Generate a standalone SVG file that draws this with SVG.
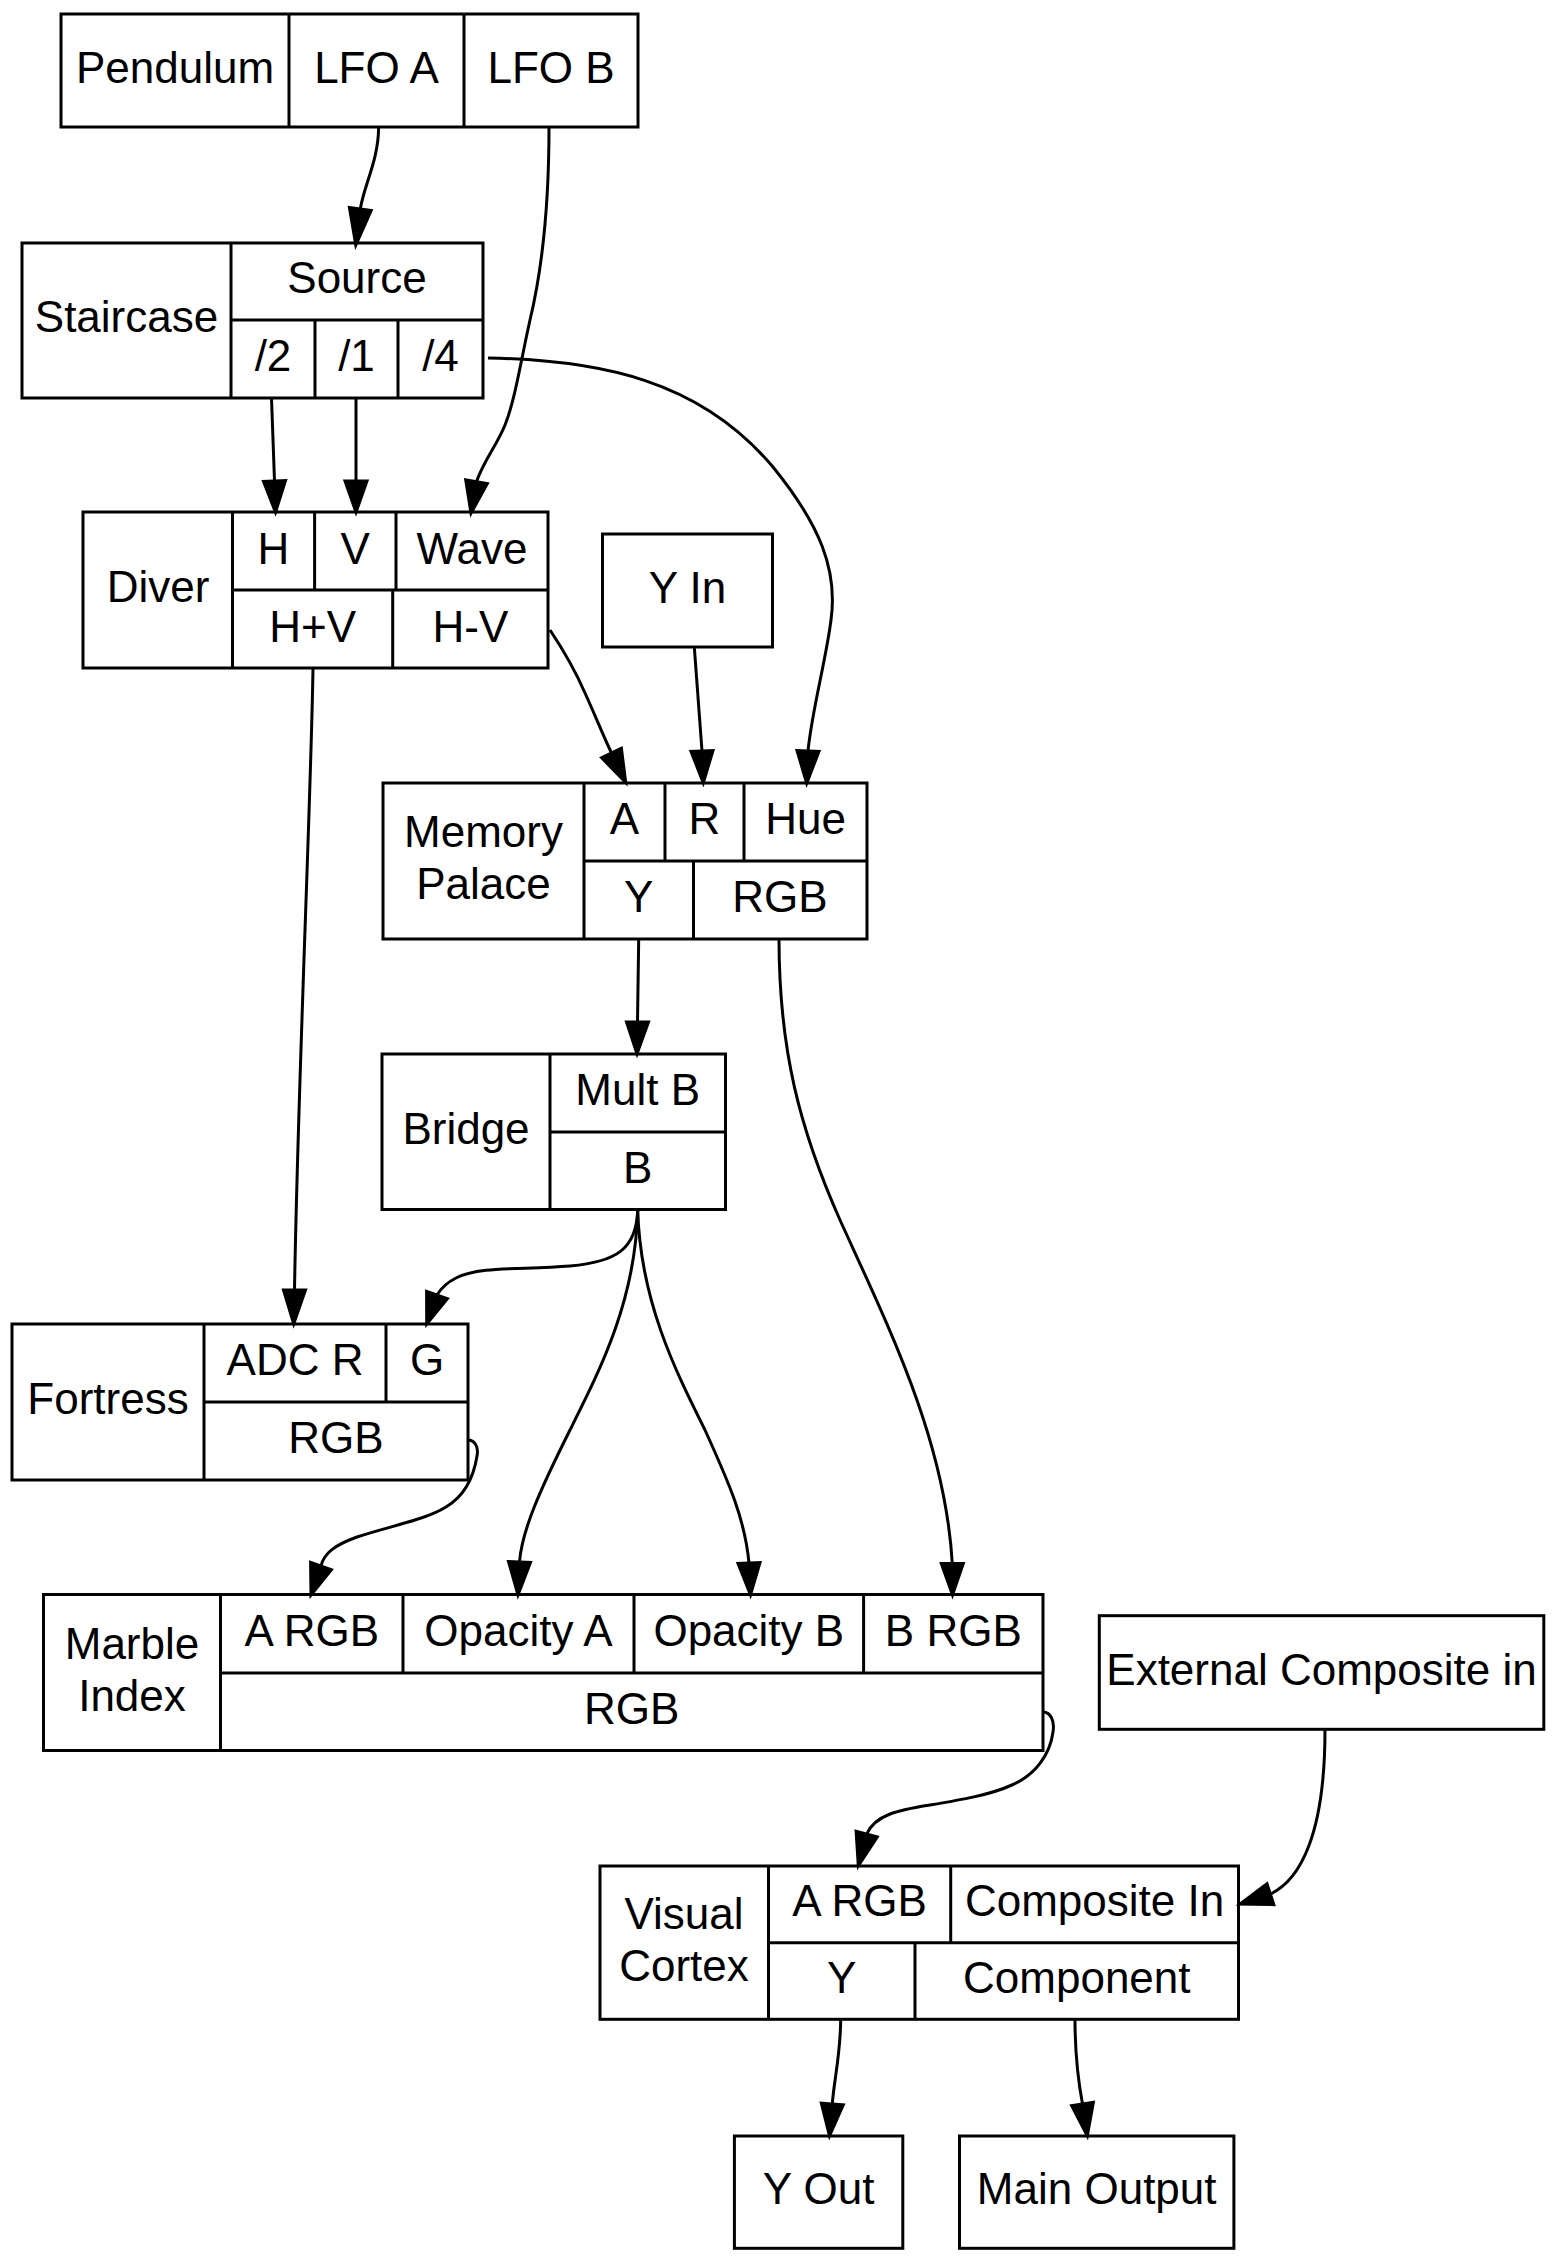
<svg xmlns="http://www.w3.org/2000/svg" width="1556" height="2262" viewBox="0 0 1556 2262">
<style>
.b{fill:none;stroke:#000;stroke-width:3}
.t{font-family:"Liberation Sans",Arial,Helvetica,sans-serif;font-size:44px;text-anchor:middle;fill:#000}
.e{fill:none;stroke:#000;stroke-width:3}
.a{fill:#000;stroke:#000;stroke-width:3;stroke-linejoin:miter}
</style>
<rect x="0" y="0" width="1556" height="2262" fill="#fff"/>
<g id="pendulum">
<rect class="b" x="61" y="14" width="577" height="113"/>
<path class="b" d="M289,14V127M464,14V127"/>
<text class="t" x="175" y="83">Pendulum</text>
<text class="t" x="376.5" y="83">LFO A</text>
<text class="t" x="551" y="83">LFO B</text>
</g>
<g id="staircase">
<rect class="b" x="22" y="243" width="461" height="155"/>
<path class="b" d="M231,243V398M231,320H483M315,320V398M398,320V398"/>
<text class="t" x="126.5" y="332">Staircase</text>
<text class="t" x="357" y="293">Source</text>
<text class="t" x="273" y="371">/2</text>
<text class="t" x="356.5" y="371">/1</text>
<text class="t" x="440.5" y="371">/4</text>
</g>
<g id="diver">
<rect class="b" x="83" y="512" width="465" height="156"/>
<path class="b" d="M232.5,512V668M232.5,590H548M314.6,512V590M396,512V590M392.7,590V668"/>
<text class="t" x="158" y="602">Diver</text>
<text class="t" x="273.5" y="563.5">H</text>
<text class="t" x="355.3" y="563.5">V</text>
<text class="t" x="472" y="563.5">Wave</text>
<text class="t" x="312.6" y="641.5">H+V</text>
<text class="t" x="470.4" y="641.5">H-V</text>
</g>
<g id="yin">
<rect class="b" x="602.5" y="534" width="170" height="113"/>
<text class="t" x="687.5" y="602.5">Y In</text>
</g>
<g id="memorypalace">
<rect class="b" x="383" y="783" width="484" height="156"/>
<path class="b" d="M584,783V939M584,861H867M665,783V861M744,783V861M693.5,861V939"/>
<text class="t" x="483.5" y="847">Memory</text>
<text class="t" x="483.5" y="898.5">Palace</text>
<text class="t" x="624.5" y="834">A</text>
<text class="t" x="704.5" y="834">R</text>
<text class="t" x="805.5" y="834">Hue</text>
<text class="t" x="638.7" y="912">Y</text>
<text class="t" x="780" y="912">RGB</text>
</g>
<g id="bridge">
<rect class="b" x="382" y="1054" width="343.5" height="155.5"/>
<path class="b" d="M550,1054V1209.5M550,1132H725.5"/>
<text class="t" x="466" y="1143.5">Bridge</text>
<text class="t" x="637.7" y="1105">Mult B</text>
<text class="t" x="637.7" y="1182.5">B</text>
</g>
<g id="fortress">
<rect class="b" x="12" y="1324" width="456" height="156"/>
<path class="b" d="M204,1324V1480M204,1402H468M386,1324V1402"/>
<text class="t" x="108" y="1414">Fortress</text>
<text class="t" x="295" y="1375">ADC R</text>
<text class="t" x="427" y="1375">G</text>
<text class="t" x="336" y="1453">RGB</text>
</g>
<g id="marbleindex">
<rect class="b" x="43.5" y="1594.5" width="999.5" height="156"/>
<path class="b" d="M220.5,1594.5V1750.5M220.5,1673H1043M403,1594.5V1673M634,1594.5V1673M863.6,1594.5V1673"/>
<text class="t" x="132" y="1659">Marble</text>
<text class="t" x="132" y="1711">Index</text>
<text class="t" x="311.8" y="1646">A RGB</text>
<text class="t" x="518.5" y="1646">Opacity A</text>
<text class="t" x="748.8" y="1646">Opacity B</text>
<text class="t" x="953.3" y="1646">B RGB</text>
<text class="t" x="631.7" y="1724">RGB</text>
</g>
<g id="external">
<rect class="b" x="1099.3" y="1615.7" width="444.5" height="113.6"/>
<text class="t" x="1321.5" y="1684.5">External Composite in</text>
</g>
<g id="visualcortex">
<rect class="b" x="600" y="1866" width="638.5" height="153.3"/>
<path class="b" d="M768.5,1866V2019.3M768.5,1942.7H1238.5M950.7,1866V1942.7M915,1942.7V2019.3"/>
<text class="t" x="684" y="1929">Visual</text>
<text class="t" x="684" y="1980.5">Cortex</text>
<text class="t" x="859.6" y="1916">A RGB</text>
<text class="t" x="1094.6" y="1916">Composite In</text>
<text class="t" x="841.8" y="1993.3">Y</text>
<text class="t" x="1076.8" y="1993.3">Component</text>
</g>
<g id="yout">
<rect class="b" x="734.4" y="2136" width="168.4" height="112.3"/>
<text class="t" x="818.6" y="2204">Y Out</text>
</g>
<g id="mainoutput">
<rect class="b" x="959.5" y="2136" width="274.4" height="112.3"/>
<text class="t" x="1096.7" y="2204">Main Output</text>
</g>
<g id="edges">
<path class="e" d="M378.6,127C378.6,160 364,185 360.3,209"/>
<polygon class="a" points="349.4,207.6 355.8,245 371.2,210.4"/>
<path class="e" d="M549,127C549,210 542,270 530,320C520,365 515,400 505,425C497,445 483,462 476.5,481.7"/>
<polygon class="a" points="465.7,479.8 471,513.3 487.3,483.6"/>
<path class="e" d="M271.5,398L274.5,481"/>
<polygon class="a" points="263.5,481.4 275.5,512.3 285.5,480.6"/>
<path class="e" d="M356,398L356,481"/>
<polygon class="a" points="345,481 356,512.3 367,481"/>
<path class="e" d="M550,630C560,645 575,670 585,693C595,715 603,735 611.5,753"/>
<polygon class="a" points="601.6,757.8 625.7,782.5 621.4,748.2"/>
<path class="e" d="M694.3,647L702,751"/>
<polygon class="a" points="691,751.5 703.3,783 713,750.5"/>
<path class="e" d="M488,358C600,360 700,380 773,467C820,525 838,570 831,620C826,660 812,710 808,751"/>
<polygon class="a" points="797,750.6 806.7,783.3 819,751.4"/>
<path class="e" d="M313,668C311,800 298,1080 294.5,1290"/>
<polygon class="a" points="283.5,1290 293.7,1324 305.5,1290"/>
<path class="e" d="M638.7,939L637.5,1022"/>
<polygon class="a" points="626.5,1022 637,1054 648.5,1022"/>
<path class="e" d="M779,939C779,1050 800,1130 840,1220C890,1330 945,1440 952.3,1563.5"/>
<polygon class="a" points="941.3,1563.5 952.5,1595 963.3,1563.5"/>
<path class="e" d="M637.7,1209C637,1250 615,1262 570,1266C520,1270 480,1266 456,1278C446,1283 440,1290 437,1295"/>
<polygon class="a" points="426.6,1291.3 426.7,1324 447.4,1298.7"/>
<path class="e" d="M637.7,1209C636,1300 600,1370 570,1430C540,1490 522,1530 519.5,1562"/>
<polygon class="a" points="508.5,1561.5 518,1595 530.5,1562.5"/>
<path class="e" d="M637.7,1209C640,1300 675,1370 705,1430C730,1485 745,1520 749,1563"/>
<polygon class="a" points="738,1563.5 750.5,1595 760,1562.5"/>
<path class="e" d="M468,1440C474,1440 479,1446 477,1456C474,1475 466,1495 446,1507C425,1520 390,1526 357,1537C335,1545 324,1553 321,1566"/>
<polygon class="a" points="310.6,1562.4 311,1595 331.4,1569.6"/>
<path class="e" d="M1043,1712C1050,1712 1055,1720 1053,1732C1050,1755 1035,1775 1012,1785C990,1795 960,1800 930,1805C898,1810 875,1815 866.7,1834"/>
<polygon class="a" points="856.1,1831.2 858.3,1866 877.3,1836.8"/>
<path class="e" d="M1325,1729.5C1325,1835 1300,1880 1270.4,1894.1"/>
<polygon class="a" points="1267,1883.7 1240,1904 1273.8,1904.6"/>
<path class="e" d="M840.7,2019.3C840.5,2055 834,2080 832.3,2104"/>
<polygon class="a" points="821.3,2103.1 829.5,2136 843.3,2104.9"/>
<path class="e" d="M1075,2019.3C1075,2055 1078,2080 1082.5,2104"/>
<polygon class="a" points="1071.6,2105.6 1087.3,2136 1093.4,2102.4"/>
</g>
</svg>
